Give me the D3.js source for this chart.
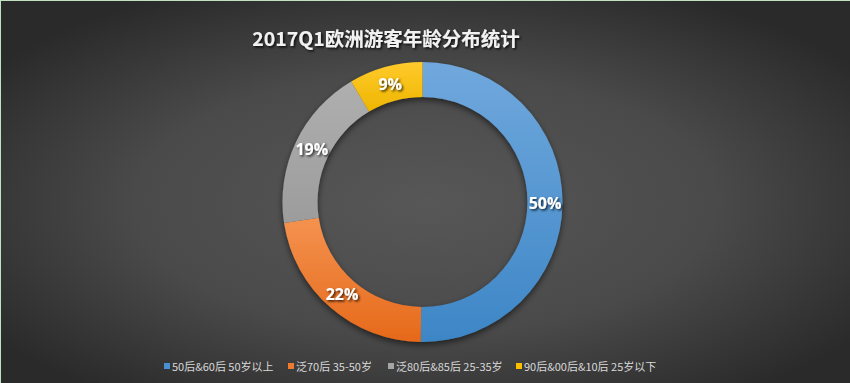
<!DOCTYPE html>
<html>
<head>
<meta charset="utf-8">
<script src="https://cdn.jsdelivr.net/npm/d3@7/dist/d3.min.js"></script>
<style>
  html, body { margin: 0; padding: 0; background: #333; }
  svg { display: block; }
</style>
</head>
<body>
<svg id="chart" width="850" height="383"></svg>
<script>
// ---- data ----
const title = "2017Q1欧洲游客年龄分布统计";
const categories = ["50后&60后 50岁以上", "泛70后 35-50岁", "泛80后&85后 25-35岁", "90后&00后&10后 25岁以下"];
const values = [50.2, 22.4, 18.9, 8.5];
const colorsLight = ["#70a8dd", "#f4924f", "#afafaf", "#ffca2c"];
const colorsDark = ["#3d86c6", "#e6691a", "#9c9c9c", "#eeb600"];
const legendColors = ["#4a90d0", "#ed7a2e", "#a5a5a5", "#fbbf00"];

const W = 850, H = 383;
const svg = d3.select("#chart");
const defs = svg.append("defs");

// background radial gradient
const bg = defs.append("radialGradient").attr("id", "bg")
  .attr("cx", "50%").attr("cy", "53%").attr("r", "62%");
bg.append("stop").attr("offset", "0%").attr("stop-color", "#575757");
bg.append("stop").attr("offset", "55%").attr("stop-color", "#4a4a4a");
bg.append("stop").attr("offset", "100%").attr("stop-color", "#2a2a2a");
svg.append("rect").attr("width", W).attr("height", H).attr("fill", "url(#bg)");
// thin light border at top-left edges
svg.append("rect").attr("x", 0).attr("y", 0).attr("width", W).attr("height", 1).attr("fill", "#bfe3c0");
svg.append("rect").attr("x", 0).attr("y", 0).attr("width", 1).attr("height", H).attr("fill", "#bfe3c0");

// filters
const sh = defs.append("filter").attr("id", "shadow").attr("x", "-20%").attr("y", "-20%").attr("width", "140%").attr("height", "140%");
sh.append("feDropShadow").attr("dx", 0).attr("dy", 3).attr("stdDeviation", 3).attr("flood-color", "#000").attr("flood-opacity", 0.55);
const tsh = defs.append("filter").attr("id", "tshadow").attr("x", "-10%").attr("y", "-30%").attr("width", "120%").attr("height", "160%");
tsh.append("feDropShadow").attr("dx", 1.5).attr("dy", 1.5).attr("stdDeviation", 1.2).attr("flood-color", "#000").attr("flood-opacity", 0.8);

// slice gradients
values.forEach((v, i) => {
  const g = defs.append("linearGradient").attr("id", "g" + i)
    .attr("x1", 0).attr("y1", 0).attr("x2", 0).attr("y2", 1);
  g.append("stop").attr("offset", "0%").attr("stop-color", colorsLight[i]);
  g.append("stop").attr("offset", "100%").attr("stop-color", colorsDark[i]);
});

// title
svg.append("text")
  .attr("x", 386).attr("y", 46)
  .attr("text-anchor", "middle")
  .attr("font-family", "'Noto Sans CJK SC', 'Open Sans', sans-serif")
  .attr("font-weight", "bold")
  .attr("font-size", 19.5)
  .attr("fill", "#f2f2f2")
  .attr("filter", "url(#tshadow)")
  .text(title);

// donut
const cx = 422.5, cy = 202, rOuter = 140, rInner = 105;
const pie = d3.pie().sort(null).value(d => d);
const arcs = pie(values);
const arc = d3.arc().innerRadius(rInner).outerRadius(rOuter);
const labelArc = d3.arc().innerRadius((rInner + rOuter) / 2).outerRadius((rInner + rOuter) / 2);

const g = svg.append("g").attr("transform", `translate(${cx},${cy})`);
const ring = g.append("g").attr("filter", "url(#shadow)");
ring.selectAll("path").data(arcs).join("path")
  .attr("d", arc)
  .attr("fill", (d, i) => `url(#g${i})`);

g.selectAll("text.lbl").data(arcs).join("text")
  .attr("class", "lbl")
  .attr("transform", d => `translate(${labelArc.centroid(d)})`)
  .attr("text-anchor", "middle")
  .attr("dy", "0.36em")
  .attr("font-family", "'Open Sans', sans-serif")
  .attr("font-weight", "bold")
  .attr("font-size", 16)
  .attr("fill", "#ffffff")
  .attr("filter", "url(#tshadow)")
  .text(d => Math.round(d.data) + "%");

// legend
const legend = svg.append("g");
const items = legend.selectAll("g").data(categories).join("g");
items.append("rect").attr("width", 6).attr("height", 6).attr("y", -5)
  .attr("fill", (d, i) => legendColors[i]);
items.append("text").attr("x", 8).attr("y", 0).attr("dy", "0.3em")
  .attr("font-family", "'Noto Sans CJK SC', sans-serif")
  .attr("font-size", 11)
  .attr("fill", "#d9d9d9")
  .text(d => d);
const legendX = [164, 288, 388, 516];
items.attr("transform", (d, i) => `translate(${legendX[i]},368)`);
</script>
</body>
</html>
